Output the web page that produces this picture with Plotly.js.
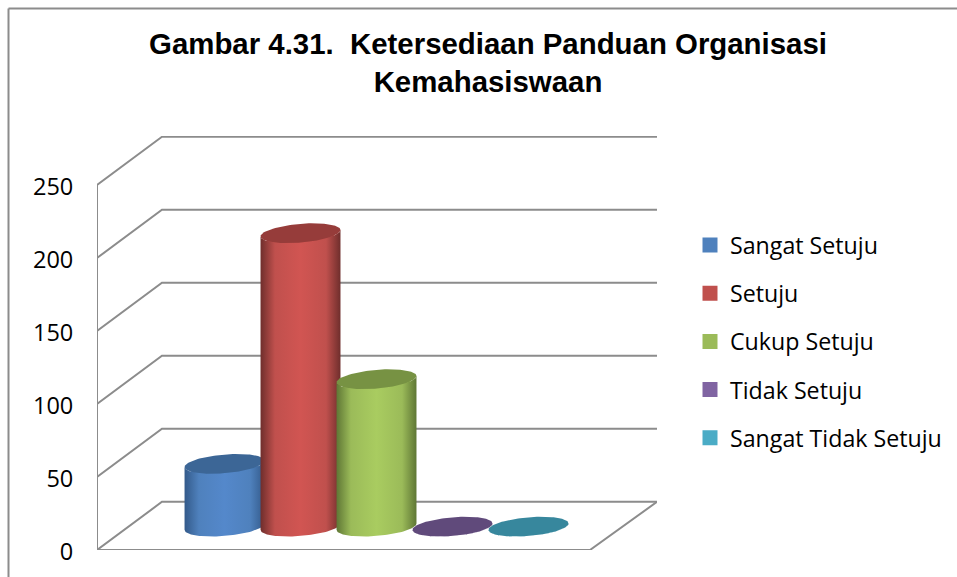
<!DOCTYPE html>
<html>
<head>
<meta charset="utf-8">
<script src="https://cdn.plot.ly/plotly-3.0.1.min.js"></script>
<style>html,body{margin:0;padding:0;background:#fff}#chart{width:957px;height:577px}</style>
</head>
<body>
<div id="chart"></div>
<script>
// Data
const categories = ['Sangat Setuju', 'Setuju', 'Cukup Setuju', 'Tidak Setuju', 'Sangat Tidak Setuju'];
const values = [43, 201, 101, 0, 0];
const tickValues = [0, 50, 100, 150, 200, 250];
const titleText = 'Gambar 4.31.\u00A0\u00A0Ketersediaan Panduan Organisasi<br>Kemahasiswaan';

// Styles
const swatchColors = ['#4f81bd', '#c0504d', '#9bbb59', '#8064a2', '#4bacc6'];
const edgeColors = ['#335a8a', '#6f2e2c', '#5f7735', '#4a3a60', '#2a6c80'];
const lightColors = ['#5488cb', '#d15552', '#a9cc60', '#8064a2', '#4bacc6'];
const capColors = ['#3c6696', '#963c3a', '#779243', '#604a7b', '#37879d'];
const gridColor = '#8c8c8c';

// Pseudo-3D geometry in axis units
const W = 957, H = 577, L = 97, R = 657, T = 136, B = 550;
const xLo = -0.678, xHi = 6.691, yHi = 283.56;
const depthX = 0.855, depthY = 33;     // wall offset
const floorRight = 5.809;
const baseY = 16;                      // cylinder centre line on the floor
const a = 0.526, shear = 2.2, b = 6.4; // ellipse half-width, tilt, half-height
const steps = 60;

const traces = [];

// Bars carry the legend and sit behind the cylinder bodies
categories.forEach((name, i) => {
  traces.push({
    type: 'bar', name: name, x: [i + 1], y: [values[i]], base: [baseY], width: 0.85,
    legendgroup: name, hoverinfo: 'skip',
    marker: {color: swatchColors[i], line: {color: swatchColors[i], width: 3}}
  });
});

// Walls and floor
function line(xs, ys) {
  traces.push({type: 'scatter', mode: 'lines', x: xs, y: ys, showlegend: false, hoverinfo: 'skip',
    cliponaxis: false, line: {color: gridColor, width: 2}});
}
tickValues.forEach(t => {
  line([xLo, xLo + depthX, xHi], [t, t + depthY, t + depthY]);
});
line([xLo, xLo], [0, 250]);
line([xLo, floorRight, xHi], [0, 0, depthY]);

// Cylinders
function ellipsePoint(cx, cy, t) {
  return [cx + a * Math.cos(t), cy + shear * Math.cos(t) + b * Math.sin(t)];
}
categories.forEach((name, i) => {
  const cx = i + 1, top = baseY + values[i];
  const xs = [], ys = [];
  for (let k = 0; k <= steps; k++) {           // front of the bottom rim, left to right
    const p = ellipsePoint(cx, baseY, Math.PI + Math.PI * k / steps);
    xs.push(p[0]); ys.push(p[1]);
  }
  for (let k = 0; k <= steps; k++) {           // front of the top rim, right to left
    const p = ellipsePoint(cx, top, 2 * Math.PI - Math.PI * k / steps);
    xs.push(p[0]); ys.push(p[1]);
  }
  xs.push(xs[0]); ys.push(ys[0]);
  traces.push({
    type: 'scatter', mode: 'lines', x: xs, y: ys, fill: 'toself', showlegend: false, hoverinfo: 'skip',
    line: {width: 0, color: edgeColors[i]}, cliponaxis: false,
    fillgradient: {type: 'horizontal', colorscale: [
      [0, edgeColors[i]], [0.18, swatchColors[i]], [0.5, lightColors[i]], [0.82, swatchColors[i]], [1, edgeColors[i]]
    ]}
  });
  const cxs = [], cys = [];
  for (let k = 0; k <= steps * 2; k++) {
    const p = ellipsePoint(cx, top, Math.PI * k / steps);
    cxs.push(p[0]); cys.push(p[1]);
  }
  traces.push({
    type: 'scatter', mode: 'lines', x: cxs, y: cys, fill: 'toself', fillcolor: capColors[i],
    showlegend: false, hoverinfo: 'skip', cliponaxis: false, line: {width: 0, color: capColors[i]}
  });
});

const px = v => (v - L) / (R - L);
const py = v => (B - v) / (B - T);
const frame = {color: gridColor, width: 2};

const layout = {
  width: W, height: H,
  margin: {l: L, r: W - R, t: T, b: H - B, pad: 0, autoexpand: false},
  paper_bgcolor: '#ffffff', plot_bgcolor: 'rgba(0,0,0,0)',
  barmode: 'overlay',
  title: {
    text: titleText, x: 488 / W, xanchor: 'center', xref: 'container',
    y: 1 - 54 / H, yanchor: 'top', yref: 'container',
    font: {family: '"Liberation Sans", Arial, sans-serif', size: 29.4, weight: 700, color: '#000000'}
  },
  xaxis: {range: [xLo, xHi], showgrid: false, zeroline: false, showline: false, showticklabels: false, ticks: '', fixedrange: true},
  yaxis: {
    range: [0, yHi], tickmode: 'array', tickvals: tickValues, showgrid: false, zeroline: false, showline: false,
    ticks: 'outside', ticklen: 18, tickcolor: 'rgba(0,0,0,0)', ticklabelshift: 2,
    tickfont: {family: '"Open Sans", "Noto Sans", sans-serif', size: 23.5, color: '#000000'}, fixedrange: true
  },
  legend: {
    x: px(690), y: py(223.5), xanchor: 'left', yanchor: 'top',
    traceorder: 'grouped', tracegroupgap: 15, itemwidth: 30,
    bgcolor: 'rgba(0,0,0,0)',
    font: {family: '"Open Sans", "Noto Sans", sans-serif', size: 23.2, color: '#000000'}
  },
  shapes: [
    {type: 'line', xref: 'paper', yref: 'paper', x0: px(8.5), x1: px(W), y0: py(8.5), y1: py(8.5), line: frame},
    {type: 'line', xref: 'paper', yref: 'paper', x0: px(8.5), x1: px(8.5), y0: py(8.5), y1: py(H), line: frame}
  ]
};

Plotly.newPlot('chart', traces, layout, {displayModeBar: false, staticPlot: true});
</script>
</body>
</html>
